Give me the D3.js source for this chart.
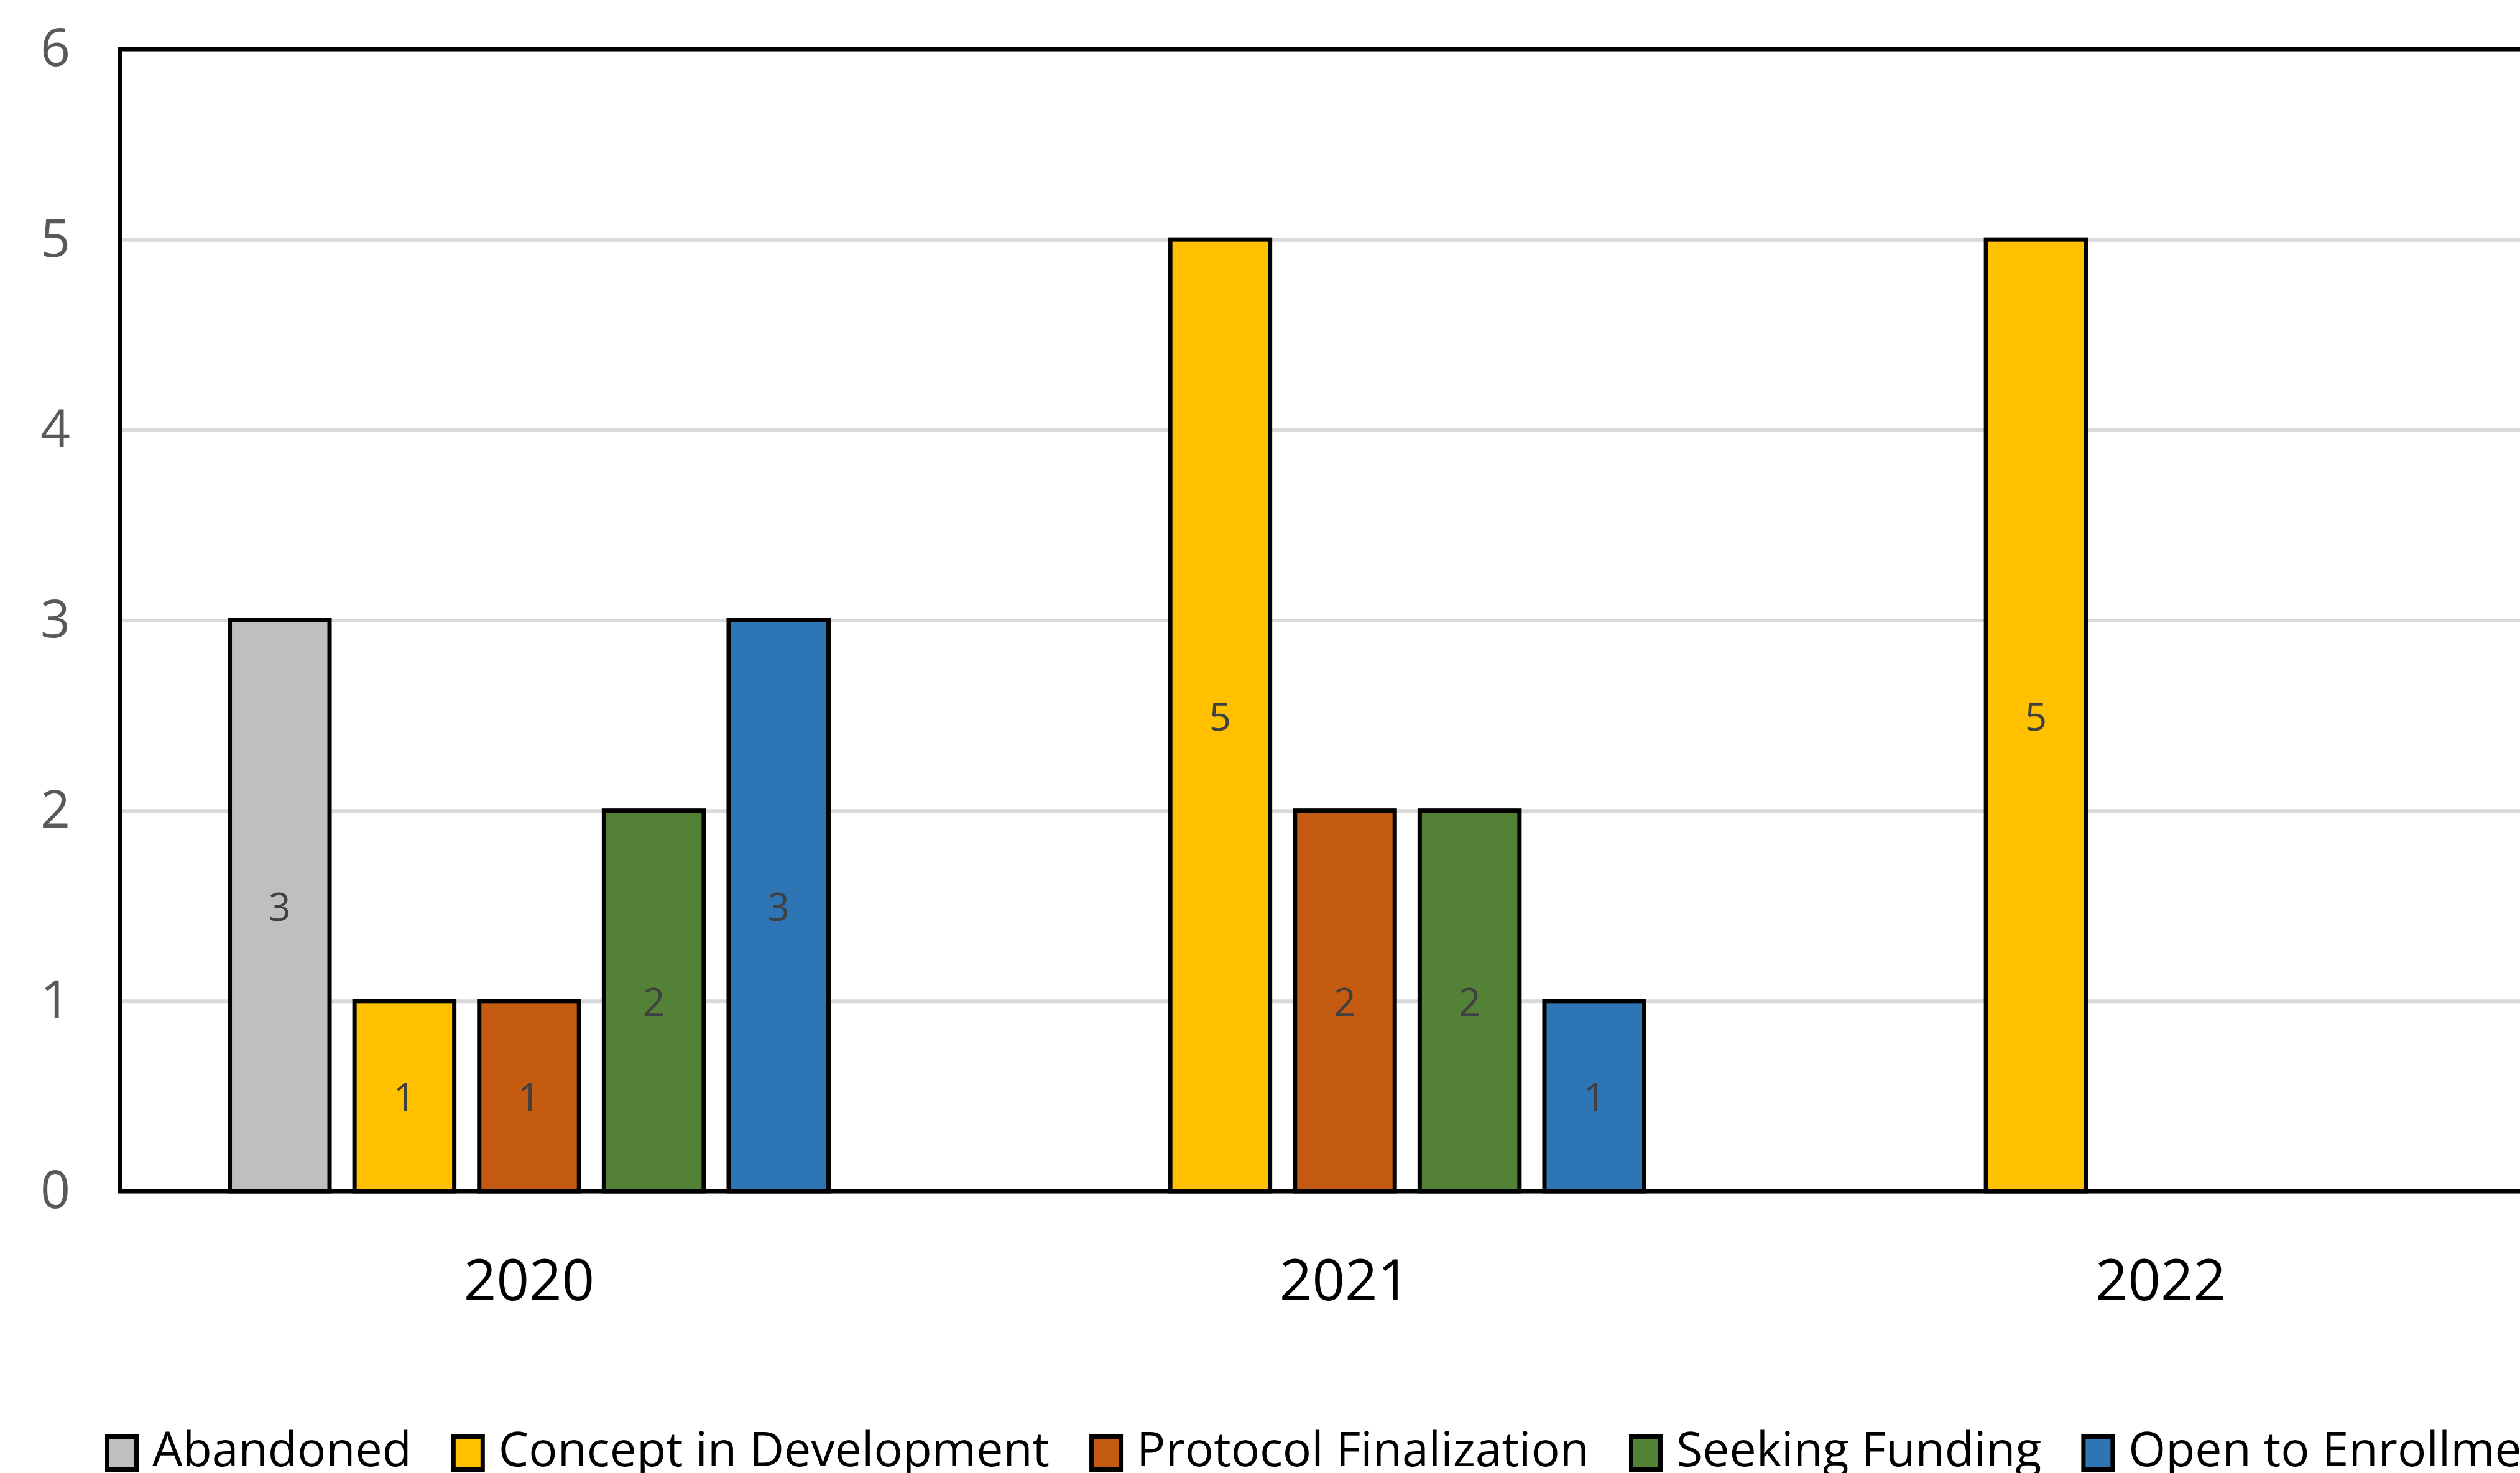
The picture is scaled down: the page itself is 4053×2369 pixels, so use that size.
<html>
<head>
<meta charset="utf-8">
<style>
  body { margin: 0; background: #FFFFFF; overflow: hidden; }
  svg { display: block; font-family: "Open Sans", sans-serif; }
</style>
<script src="https://d3js.org/d3.v7.min.js"></script>
</head>
<body>
<svg id="chart"></svg>
<script>
// chart values
const categories = ["2020", "2021", "2022"]
const seriesNames = ["Abandoned", "Concept in Development", "Protocol Finalization", "Seeking Funding", "Open to Enrollment"]
const abandoned = [3, 0, 0]
const conceptInDevelopment = [1, 5, 5]
const protocolFinalization = [1, 2, 0]
const seekingFunding = [2, 2, 0]
const openToEnrollment = [3, 1, 0]
const yTicks = [0, 1, 2, 3, 4, 5, 6]

const seriesValues = [abandoned, conceptInDevelopment, protocolFinalization, seekingFunding, openToEnrollment]
const colors = ["#BFBFBF", "#FFC000", "#C55A11", "#538135", "#2E75B6"]

function getConfig() {
  let width = 4053
  let height = 2369
  // the plot runs a little past the right edge, like the cropped original
  let plot = {left: 193, top: 79, right: 4129, bottom: 1916}
  let container = d3.select("#chart")
    .attr("width", width)
    .attr("height", height)
  return {width, height, plot, container}
}

function drawChart() {
  let {plot, container} = getConfig()

  let x = d3.scaleBand()
    .domain(categories)
    .range([plot.left + 2, plot.right + 2])
    .padding(0)
  let xSeries = d3.scaleBand()
    .domain(seriesNames)
    .range([0, x.bandwidth()])
    .paddingInner(0.2)
    .paddingOuter(0.87)
  let y = d3.scaleLinear()
    .domain([0, 6])
    .range([plot.bottom, plot.top])
  let color = d3.scaleOrdinal()
    .domain(seriesNames)
    .range(colors)

  // gridlines
  container.append("g")
    .attr("transform", `translate(${plot.left},0)`)
    .call(d3.axisLeft(y).tickValues(yTicks).tickSize(-(plot.right - plot.left)).tickFormat(""))
    .call(g => g.select(".domain").remove())
    .selectAll("line")
    .attr("stroke", "#D9D9D9")
    .attr("stroke-width", 6)

  // y tick labels
  container.append("g")
    .attr("transform", `translate(${plot.left},0)`)
    .call(d3.axisLeft(y).tickValues(yTicks).tickSize(0).tickPadding(80).tickFormat(d3.format("d")))
    .call(g => g.select(".domain").remove())
    .selectAll("text")
    .attr("font-family", "'Open Sans', sans-serif")
    .attr("font-size", 84)
    .attr("fill", "#595959")

  // flatten to one record per bar
  let bars = []
  categories.forEach((c, i) => {
    seriesNames.forEach((s, j) => {
      bars.push({category: c, series: s, value: seriesValues[j][i]})
    })
  })
  let shown = bars.filter(d => d.value > 0)

  container.append("g").selectAll("rect")
    .data(shown).enter()
    .append("rect")
    .attr("x", d => x(d.category) + xSeries(d.series))
    .attr("y", d => y(d.value))
    .attr("width", xSeries.bandwidth())
    .attr("height", d => y(0) - y(d.value))
    .attr("fill", d => color(d.series))
    .attr("stroke", "#000000")
    .attr("stroke-width", 7)

  // data labels, in the middle of each bar
  container.append("g").selectAll("text")
    .data(shown).enter()
    .append("text")
    .attr("x", d => x(d.category) + xSeries(d.series) + xSeries.bandwidth() / 2)
    .attr("y", d => y(d.value / 2))
    .attr("text-anchor", "middle")
    .attr("dominant-baseline", "central")
    .attr("font-size", 62)
    .attr("fill", "#404040")
    .text(d => d.value)

  // plot outline drawn over the bars
  container.append("rect")
    .attr("x", plot.left)
    .attr("y", plot.top)
    .attr("width", plot.right - plot.left)
    .attr("height", plot.bottom - plot.top)
    .attr("fill", "none")
    .attr("stroke", "#000000")
    .attr("stroke-width", 7)

  // category labels
  container.append("g")
    .attr("transform", `translate(0,${plot.bottom})`)
    .call(d3.axisBottom(x).tickSize(0).tickPadding(110))
    .call(g => g.select(".domain").remove())
    .selectAll("text")
    .attr("font-family", "'Open Sans', sans-serif")
    .attr("font-size", 92)
    .attr("fill", "#000000")

  drawLegend(container, color)
}

function drawLegend(container, color) {
  let legend = container.append("g").attr("transform", "translate(169,2337)")
  let cursor = 0
  seriesNames.forEach(s => {
    let item = legend.append("g").attr("transform", `translate(${cursor},0)`)
    item.append("rect")
      .attr("x", 3.5)
      .attr("y", -26.5)
      .attr("width", 47)
      .attr("height", 53)
      .attr("fill", color(s))
      .attr("stroke", "#000000")
      .attr("stroke-width", 7)
    let label = item.append("text")
      .attr("x", 76)
      .attr("y", 21)
      .attr("font-size", 77)
      .attr("fill", "#000000")
      .text(s)
    cursor += 76 + label.node().getComputedTextLength() + 64
  })
}

drawChart()
</script>
</body>
</html>
